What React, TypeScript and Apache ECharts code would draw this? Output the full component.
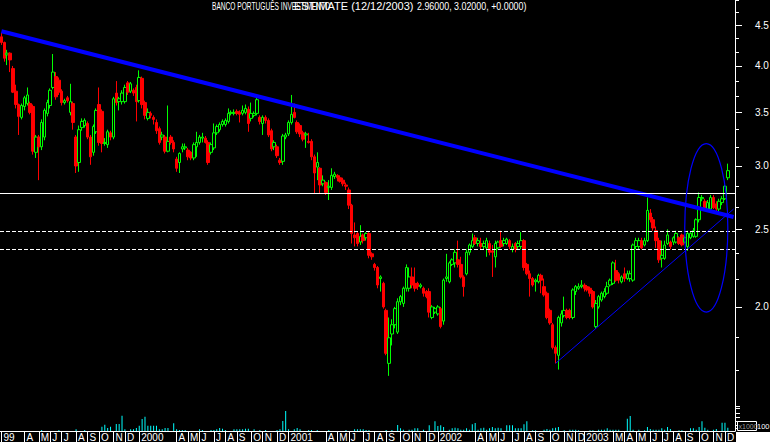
import React, { useEffect, useRef } from "react";
import * as echarts from "echarts";

// Weekly quotes of Banco Português de Investimento, Feb 1999 – Dec 2003 (euros)
const openP = [
  4.35,4.28,4.13,4.15,3.97,3.72,3.58,3.45,3.56,3.59,
  3.59,3.56,3.12,3.26,3.17,3.26,3.49,3.57,3.76,3.88,
  3.84,3.72,3.60,3.65,3.50,3.59,3.26,3.03,3.35,3.37,
  3.39,3.26,3.12,3.31,3.58,3.51,3.20,3.19,3.30,3.26,
  3.70,3.61,3.61,3.61,3.81,3.72,3.73,3.76,3.62,3.86,
  3.60,3.44,3.49,3.45,3.40,3.34,3.26,3.26,3.13,3.26,
  3.21,3.06,3.03,3.15,3.16,3.14,3.12,3.07,3.17,3.21,
  3.25,3.25,3.21,3.12,3.16,3.30,3.33,3.38,3.38,3.41,
  3.49,3.49,3.51,3.50,3.49,3.50,3.53,3.44,3.47,3.49,
  3.45,3.39,3.45,3.42,3.32,3.17,3.17,3.05,3.04,3.26,
  3.29,3.40,3.50,3.40,3.37,3.30,3.28,3.22,3.22,3.08,
  2.99,2.98,2.85,2.86,2.82,2.82,2.91,2.92,2.90,2.88,
  2.84,2.80,2.68,2.46,2.47,2.41,2.46,2.44,2.47,2.33,
  2.26,2.24,2.17,2.14,1.98,1.70,1.85,1.90,1.86,2.03,
  2.02,2.11,2.11,2.18,2.14,2.14,2.12,2.11,2.09,2.09,
  1.94,1.97,1.96,1.99,1.92,2.17,2.15,2.26,2.27,2.29,
  2.26,2.18,2.20,2.34,2.38,2.44,2.40,2.40,2.38,2.37,
  2.40,2.35,2.31,2.37,2.42,2.40,2.40,2.42,2.36,2.40,
  2.38,2.38,2.42,2.26,2.20,2.17,2.15,2.15,2.19,2.12,
  2.08,1.98,1.90,1.78,1.74,1.91,1.95,1.98,1.98,1.94,
  2.09,2.11,2.12,2.13,2.12,2.11,2.09,1.89,2.00,2.04,
  2.06,2.08,2.13,2.14,2.22,2.20,2.15,2.20,2.17,2.17,
  2.16,2.38,2.38,2.42,2.39,2.42,2.62,2.57,2.49,2.42,
  2.30,2.30,2.40,2.41,2.41,2.41,2.44,2.46,2.41,2.38,
  2.44,2.45,2.45,2.57,2.73,2.71,2.65,2.65,2.74,2.69,
  2.65,2.70,2.73,2.90,
];
const closeP = [
  4.28,4.09,4.15,4.07,3.71,3.58,3.46,3.57,3.65,3.68,
  3.50,3.13,3.26,3.17,3.40,3.52,3.60,3.73,3.93,3.66,
  3.71,3.60,3.62,3.62,3.61,3.40,3.00,3.33,3.41,3.42,
  3.26,3.08,3.36,3.52,3.21,3.20,3.21,3.31,3.26,3.64,
  3.60,3.64,3.70,3.76,3.71,3.80,3.70,3.61,3.87,3.58,
  3.47,3.50,3.47,3.43,3.32,3.21,3.28,3.13,3.22,3.21,
  3.15,2.98,3.11,3.17,3.17,3.08,3.07,3.19,3.21,3.26,
  3.26,3.21,3.03,3.19,3.30,3.36,3.38,3.41,3.42,3.49,
  3.50,3.50,3.49,3.48,3.52,3.54,3.39,3.49,3.49,3.63,
  3.41,3.45,3.42,3.28,3.15,3.21,3.09,3.03,3.27,3.28,
  3.40,3.48,3.45,3.31,3.29,3.24,3.29,3.21,3.08,2.94,
  3.03,2.84,2.88,2.78,2.83,2.92,2.93,2.90,2.87,2.85,
  2.83,2.68,2.47,2.44,2.40,2.45,2.42,2.47,2.32,2.31,
  2.24,2.13,2.18,2.00,1.75,1.83,1.90,1.99,2.03,2.06,
  2.11,2.24,2.18,2.13,2.11,2.12,2.13,2.08,2.06,1.97,
  2.00,1.99,2.00,1.89,2.16,2.18,2.27,2.29,2.34,2.26,
  2.18,2.12,2.34,2.39,2.42,2.40,2.42,2.38,2.40,2.42,
  2.34,2.34,2.40,2.41,2.38,2.42,2.43,2.38,2.38,2.36,
  2.40,2.42,2.24,2.20,2.17,2.13,2.16,2.19,2.16,2.07,
  1.94,1.91,1.78,1.75,1.94,1.96,1.98,1.94,1.94,2.10,
  2.12,2.12,2.13,2.11,2.10,2.08,2.00,2.02,2.06,2.08,
  2.09,2.12,2.16,2.27,2.16,2.16,2.18,2.17,2.20,2.20,
  2.39,2.42,2.42,2.37,2.42,2.64,2.57,2.51,2.42,2.29,
  2.32,2.39,2.46,2.38,2.44,2.47,2.40,2.39,2.44,2.47,
  2.47,2.49,2.57,2.74,2.74,2.65,2.70,2.74,2.66,2.65,
  2.71,2.73,2.83,2.96,
];
const lowP = [
  4.25,4.05,4.01,3.93,3.70,3.54,3.28,3.43,3.52,3.57,
  3.48,3.10,3.07,2.88,3.14,3.23,3.46,3.54,3.74,3.63,
  3.68,3.57,3.58,3.60,3.47,3.33,2.94,2.95,3.32,3.35,
  3.24,3.01,3.09,3.29,3.18,3.12,3.18,3.16,3.23,3.24,
  3.57,3.52,3.58,3.59,3.68,3.70,3.67,3.41,3.60,3.54,
  3.43,3.42,3.44,3.38,3.29,3.19,3.23,3.11,3.12,3.19,
  3.12,2.95,2.94,3.12,3.14,3.05,3.05,3.05,3.08,3.19,
  3.21,3.20,3.01,3.10,3.14,3.28,3.31,3.36,3.36,3.39,
  3.47,3.47,3.47,3.40,3.47,3.48,3.31,3.41,3.45,3.47,
  3.38,3.28,3.39,3.26,3.13,3.14,3.07,3.01,3.01,3.24,
  3.27,3.38,3.44,3.29,3.26,3.22,3.16,3.20,3.05,2.77,
  2.88,2.77,2.83,2.76,2.72,2.80,2.89,2.87,2.86,2.83,
  2.80,2.65,2.40,2.38,2.38,2.39,2.40,2.42,2.30,2.29,
  2.22,2.11,2.09,1.99,1.74,1.64,1.79,1.88,1.85,2.01,
  2.00,2.09,2.09,2.11,2.09,2.10,2.11,2.06,2.05,1.94,
  1.93,1.96,1.95,1.88,1.90,2.15,2.14,2.25,2.24,2.24,
  2.17,2.06,2.19,2.32,2.37,2.39,2.38,2.36,2.36,2.31,
  2.32,2.18,2.24,2.36,2.37,2.38,2.39,2.36,2.34,2.34,
  2.36,2.36,2.22,2.19,2.06,2.12,2.09,2.14,2.08,2.06,
  1.93,1.90,1.77,1.70,1.67,1.89,1.94,1.93,1.93,1.93,
  2.07,2.10,2.11,2.09,2.09,2.06,1.99,1.88,1.99,2.03,
  2.05,2.07,2.12,2.13,2.15,2.14,2.14,2.15,2.16,2.15,
  2.15,2.36,2.36,2.36,2.38,2.41,2.55,2.49,2.37,2.27,
  2.24,2.29,2.39,2.36,2.39,2.40,2.39,2.38,2.40,2.35,
  2.43,2.44,2.44,2.55,2.71,2.64,2.64,2.64,2.65,2.62,
  2.63,2.68,2.72,2.88,
];
const highP = [
  4.40,4.29,4.19,4.16,4.00,3.79,3.59,3.59,3.67,3.76,
  3.61,3.58,3.28,3.28,3.43,3.54,3.63,3.75,4.14,3.93,
  3.87,3.74,3.64,3.67,3.80,3.61,3.28,3.37,3.44,3.44,
  3.41,3.28,3.38,3.54,3.76,3.53,3.25,3.33,3.32,3.66,
  3.83,3.66,3.73,3.79,3.83,3.82,3.75,3.79,3.95,3.88,
  3.62,3.54,3.51,3.47,3.43,3.36,3.31,3.28,3.57,3.28,
  3.23,3.08,3.12,3.20,3.20,3.16,3.13,3.21,3.31,3.28,
  3.30,3.27,3.23,3.21,3.39,3.38,3.40,3.43,3.44,3.54,
  3.52,3.53,3.53,3.52,3.57,3.58,3.56,3.60,3.51,3.65,
  3.47,3.47,3.47,3.44,3.34,3.23,3.19,3.07,3.29,3.30,
  3.42,3.68,3.59,3.42,3.39,3.32,3.31,3.30,3.24,3.10,
  3.12,2.99,2.92,2.87,2.88,2.98,2.95,2.93,2.92,2.90,
  2.86,2.82,2.69,2.55,2.48,2.53,2.47,2.48,2.48,2.34,
  2.27,2.25,2.19,2.15,1.99,1.94,1.93,2.00,2.05,2.07,
  2.12,2.26,2.24,2.24,2.24,2.15,2.14,2.12,2.10,2.11,
  2.01,2.00,2.01,2.00,2.17,2.33,2.28,2.30,2.36,2.42,
  2.31,2.19,2.36,2.40,2.47,2.46,2.44,2.44,2.42,2.44,
  2.42,2.39,2.42,2.42,2.49,2.44,2.44,2.43,2.40,2.41,
  2.42,2.48,2.43,2.27,2.22,2.18,2.17,2.20,2.20,2.17,
  2.09,1.99,1.91,1.79,1.95,1.98,2.06,1.99,1.99,2.11,
  2.13,2.14,2.16,2.14,2.13,2.12,2.10,2.04,2.07,2.09,
  2.11,2.15,2.17,2.28,2.29,2.21,2.19,2.24,2.22,2.22,
  2.40,2.44,2.44,2.44,2.44,2.74,2.65,2.59,2.52,2.44,
  2.42,2.42,2.50,2.42,2.45,2.49,2.45,2.47,2.45,2.49,
  2.48,2.51,2.58,2.78,2.76,2.73,2.72,2.76,2.76,2.71,
  2.73,2.75,2.84,3.02,
];
// weekly volume, thousands of shares
const volume = [
  0,0,0,0,0,0,0,0,0,0, 0,0,0,0,100,0,0,0,0,0,
  100,0,0,0,0,0,170,0,0,100, 0,0,0,0,0,430,630,300,430,0,
  700,700,1530,170,0,170,170,300,530,1200, 1430,530,530,530,530,170,170,300,300,0,
  770,170,100,100,100,0,0,0,0,170, 100,0,0,100,100,170,300,230,100,0,
  0,170,170,170,170,230,230,0,170,0, 100,0,100,0,0,0,100,170,1000,2000,
  170,0,170,300,170,0,0,100,100,0, 100,0,0,0,100,0,0,0,0,0,
  100,0,0,170,170,170,170,100,100,0, 0,0,0,0,100,0,100,0,600,270,
  130,0,130,130,270,270,0,130,0,570, 0,970,500,570,400,0,130,270,330,270,
  130,130,270,130,670,800,130,270,330,130, 270,400,270,330,270,0,570,570,570,270,
  270,270,670,970,0,70,70,0,0,130, 200,130,270,330,400,0,70,0,130,130,
  130,70,0,0,0,70,70,0,130,130, 130,270,130,130,130,130,0,0,1230,1500,
  130,0,130,0,70,400,200,130,130,130, 270,130,400,200,0,0,70,70,0,0,
  270,270,130,400,970,330,130,0,130,200, 0,830,830,330,
];

// month ticks on the time axis (week index -> label)
const tickIndex = [0,8,13,17,21,26,30,34,39,43,48,61,65,69,74,78,82,87,91,96,100,113,117,121,126,130,134,139,143,148,152,165,169,173,178,182,186,191,196,200,203,213,217,221,226,230,234,238,243,248,252,254];
const tickText = ["99","A","M","J","J","A","S","O","N","D","2000","A","M","J","J","A","S","O","N","D","2001","A","M","J","J","A","S","O","N","D","2002","A","M","J","J","A","S","O","N","D","2003","M","A","M","J","J","A","S","O","N","D","2"];

// price scale (logarithmic)
const priceMin = 1.53;
const priceMax = 4.836;
const priceLabels = [2.0, 2.5, 3.0, 3.5, 4.0, 4.5];
const priceMinorTicks = [1.6667, 1.8333, 2.1667, 2.3333, 2.6667, 2.8333, 3.1667, 3.3333, 3.6667, 3.8333, 4.1667, 4.3333, 4.6667, 4.8333];
const volumeMax = 3100;
const volumeTicks = [270, 600, 930, 1330, 1770, 2270, 2500];

// drawn annotations
const resistanceLevel = 2.766;
const supportLevels = [2.494, 2.361];
const downTrend = [[0, 4.42], [255, 2.59]];
const upTrend = [[193, 1.7], [255, 2.65]];
const ellipseSpan = { fromIndex: 238, toIndex: 253, top: 3.2, bottom: 1.97 };

const weekCount = 256;
const firstWeek = Date.UTC(1999, 1, 5);

const FONT = '"Liberation Sans Narrow", "Arial Narrow", "Liberation Sans", Arial, sans-serif';

export default function App() {
  const ref = useRef<HTMLDivElement>(null);

  useEffect(() => {
    const chart = echarts.init(ref.current as HTMLDivElement, null, { renderer: "svg" });
    const ln = Math.log;
    const categories = Array.from({ length: weekCount }, (_, k) =>
      new Date(firstWeek + k * 7 * 86400000).toISOString().slice(0, 10)
    );
    const labelByCat: Record<string, string> = {};
    const tickSet = new Set<number>(tickIndex);
    tickIndex.forEach((k, j) => (labelByCat[categories[k]] = tickText[j]));

    const candles = openP.map((o, i) => [ln(o), ln(closeP[i]), ln(lowP[i]), ln(highP[i])]);

    chart.setOption({
      animation: false,
      backgroundColor: "#000000",
      grid: [
        { left: 0, right: 35, top: 0, height: 400, outerBoundsMode: "none" },
        { left: 0, right: 35, top: 400, height: 31, outerBoundsMode: "none" },
      ],
      xAxis: [
        {
          type: "category",
          gridIndex: 0,
          data: categories,
          boundaryGap: true,
          axisLine: { show: false },
          axisTick: { show: false },
          axisLabel: { show: false },
          splitLine: { show: false },
        },
        {
          type: "category",
          gridIndex: 1,
          data: categories,
          boundaryGap: true,
          axisLine: { show: true, lineStyle: { color: "#ffffff", width: 1 } },
          axisTick: {
            show: true,
            alignWithLabel: true,
            interval: (index: number) => tickSet.has(index),
            length: 11,
            lineStyle: { color: "#ffffff", width: 1 },
          },
          axisLabel: {
            show: true,
            interval: (index: number) => tickSet.has(index),
            formatter: (value: string) => labelByCat[value] ?? "",
            color: "#ffffff",
            fontSize: 10,
            fontFamily: FONT,
            align: "left",
            padding: [0, 0, 0, 2],
            margin: 1,
          },
          splitLine: { show: false },
        },
      ],
      yAxis: [
        {
          type: "value",
          gridIndex: 0,
          position: "right",
          min: ln(priceMin),
          max: ln(priceMax),
          axisLine: { show: true, lineStyle: { color: "#ffffff", width: 1 } },
          axisTick: {
            show: true,
            customValues: priceLabels.map((v) => ln(v)),
            length: 7,
            lineStyle: { color: "#ffffff" },
          },
          axisLabel: {
            show: true,
            customValues: priceLabels.map((v) => ln(v)),
            formatter: (v: number) => Math.exp(v).toFixed(1),
            color: "#ffffff",
            fontSize: 10,
            fontFamily: FONT,
            margin: 20,
          },
          splitLine: { show: false },
        },
        {
          type: "value",
          gridIndex: 0,
          position: "right",
          min: ln(priceMin),
          max: ln(priceMax),
          axisLine: { show: false },
          axisTick: {
            show: true,
            customValues: priceMinorTicks.map((v) => ln(v)),
            length: 4,
            lineStyle: { color: "#ffffff" },
          },
          axisLabel: { show: false },
          splitLine: { show: false },
        },
        {
          type: "value",
          gridIndex: 1,
          position: "right",
          min: 0,
          max: volumeMax,
          axisLine: { show: true, lineStyle: { color: "#ffffff", width: 1 } },
          axisTick: {
            show: true,
            customValues: volumeTicks,
            length: 5,
            lineStyle: { color: "#ffffff" },
          },
          axisLabel: { show: false },
          splitLine: { show: false },
        },
      ],
      series: [
        {
          type: "line",
          xAxisIndex: 0,
          yAxisIndex: 0,
          data: [],
          z: 1,
          silent: true,
          markLine: {
            silent: true,
            symbol: ["none", "none"],
            label: { show: false },
            lineStyle: { color: "#ffffff", width: 1, type: "solid" },
            data: [
              { yAxis: ln(resistanceLevel) },
              ...supportLevels.map((v) => ({
                yAxis: ln(v),
                lineStyle: { color: "#ffffff", width: 1, type: [4, 2] },
              })),
            ],
          },
        },
        {
          type: "candlestick",
          xAxisIndex: 0,
          yAxisIndex: 0,
          data: candles,
          barWidth: 3,
          z: 3,
          itemStyle: {
            color: "#000000",
            color0: "#ff0000",
            borderColor: "#00ff00",
            borderColor0: "#ff0000",
            borderWidth: 1,
          },
        },
        {
          type: "line",
          xAxisIndex: 0,
          yAxisIndex: 0,
          data: downTrend.map(([i, v]) => [i, ln(v)]),
          symbol: "none",
          z: 4,
          lineStyle: { color: "#0000ff", width: 4 },
        },
        {
          type: "line",
          xAxisIndex: 0,
          yAxisIndex: 0,
          data: upTrend.map(([i, v]) => [i, ln(v)]),
          symbol: "none",
          z: 4,
          lineStyle: { color: "#0000ff", width: 1 },
        },
        {
          type: "bar",
          xAxisIndex: 1,
          yAxisIndex: 2,
          data: volume,
          barWidth: 1,
          itemStyle: { color: "#00ffff" },
        },
      ],
    });

    const x1 = chart.convertToPixel({ xAxisIndex: 0 }, ellipseSpan.fromIndex) as number;
    const x2 = chart.convertToPixel({ xAxisIndex: 0 }, ellipseSpan.toIndex) as number;
    const y1 = chart.convertToPixel({ yAxisIndex: 0 }, ln(ellipseSpan.top)) as number;
    const y2 = chart.convertToPixel({ yAxisIndex: 0 }, ln(ellipseSpan.bottom)) as number;

    chart.setOption({
      graphic: [
        {
          type: "ellipse",
          shape: { cx: (x1 + x2) / 2, cy: (y1 + y2) / 2, rx: Math.abs(x2 - x1) / 2, ry: Math.abs(y2 - y1) / 2 },
          style: { fill: "none", stroke: "#0000ff", lineWidth: 1.2 },
          z: 20,
          silent: true,
        },
        {
          type: "text",
          x: 212,
          y: 1,
          scaleX: 0.66,
          style: { text: "BANCO PORTUGUÊS INVESTIMENTO", fill: "#ffffff", fontSize: 10, fontFamily: "Liberation Sans", verticalAlign: "top" },
          z: 20,
        },
        {
          type: "text",
          x: 294,
          y: 1,
          scaleX: 1.1,
          style: { text: "ESTIMATE (12/12/2003)", fill: "#ffffff", fontSize: 10, fontFamily: "Liberation Sans", verticalAlign: "top" },
          z: 20,
        },
        {
          type: "text",
          x: 417,
          y: 1,
          scaleX: 0.89,
          style: { text: "2.96000, 3.02000, +0.0000)", fill: "#ffffff", fontSize: 10, fontFamily: "Liberation Sans", verticalAlign: "top" },
          z: 20,
        },
        {
          type: "rect",
          shape: { x: 736, y: 432, width: 34, height: 10 },
          style: { fill: "#ffffff" },
          z: 20,
        },
        {
          type: "rect",
          shape: { x: 737.5, y: 421.5, width: 19, height: 9 },
          style: { fill: "#000000", stroke: "#ffffff", lineWidth: 1 },
          z: 21,
        },
        {
          type: "text",
          x: 738.5,
          y: 423,
          style: { text: "x1000", fill: "#999999", fontSize: 7, fontFamily: FONT, verticalAlign: "top" },
          z: 22,
        },
        {
          type: "text",
          x: 757,
          y: 422,
          style: { text: "100", fill: "#ffffff", fontSize: 7.5, fontFamily: FONT, verticalAlign: "top" },
          z: 20,
        },
      ],
    });

    return () => chart.dispose();
  }, []);

  return (
    <div
      ref={ref}
      style={{ position: "fixed", left: 0, top: 0, width: 770, height: 442, background: "#000000" }}
    />
  );
}
